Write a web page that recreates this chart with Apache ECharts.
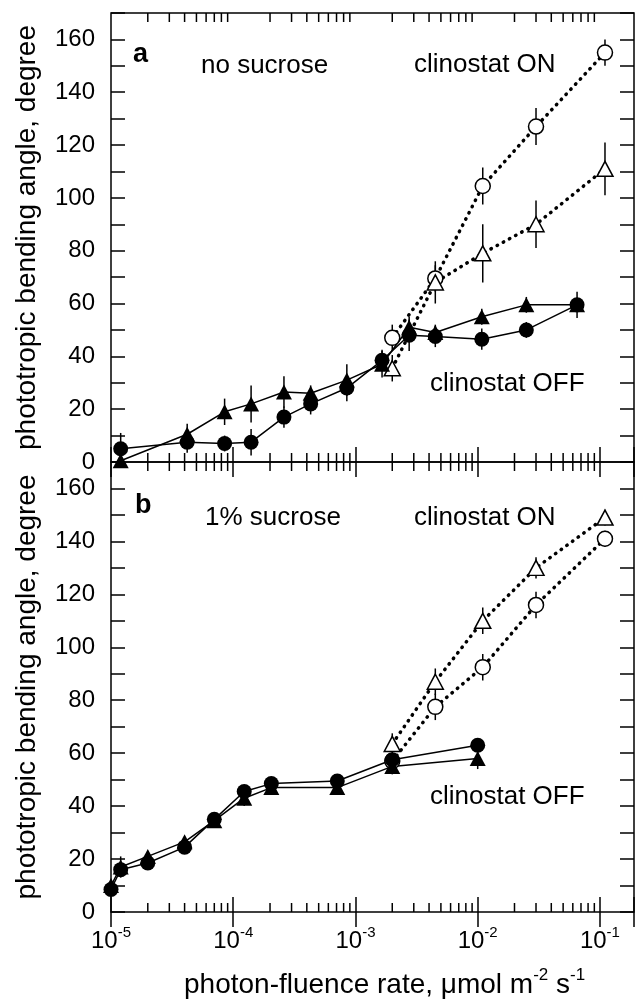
<!DOCTYPE html>
<html>
<head>
<meta charset="utf-8">
<script src="https://cdn.jsdelivr.net/npm/echarts@6/dist/echarts.min.js"></script>
<style>
html, body { margin: 0; padding: 0; background: #fff; }
#main { width: 640px; height: 1002px; }
</style>
</head>
<body>
<div id="main"></div>
<script>
// panel a - no sucrose
var offX_a = [1.2e-5, 4.2e-5, 8.5e-5, 1.4e-4, 2.6e-4, 4.3e-4, 8.5e-4, 1.65e-3, 2.75e-3, 4.5e-3, 1.08e-2, 2.5e-2, 6.5e-2];
var offCircle_a = [5, 7.5, 7, 7.5, 17, 22, 28, 38.5, 48, 47.5, 46.5, 50, 59.5];
var offCircleErr_a = [6, 4, 3, 5, 4, 4, 5, 4, 6, 4, 4, 3, 5];
var offTri_a = [0.5, 10.5, 19, 22, 26.5, 26, 31, 37, 51, 49, 55, 59.5, 59.5];
var offTriErr_a = [0, 4, 5, 7, 6, 3, 6, 5, 4, 3, 3, 3, 0];

var onX_a = [2e-3, 4.5e-3, 1.1e-2, 3e-2, 0.11];
var onCircle_a = [47, 69.5, 104.5, 127, 155];
var onCircleErr_a = [5, 5, 7, 7, 5];
var onTri_a = [35.5, 68, 79, 90, 111];
var onTriErr_a = [5, 8, 11, 9, 10];

// panel b - 1% sucrose
var offX_b = [1e-5, 1.2e-5, 2e-5, 4e-5, 7e-5, 1.23e-4, 2.05e-4, 7.1e-4, 2e-3, 1e-2];
var offCircle_b = [8.5, 16, 18.5, 24.5, 35, 45.5, 48.5, 49.5, 57.5, 63];
var offCircleErr_b = [2, 2, 2, 2, 2, 2, 2, 2, 2, 2];
var offTri_b = [10, 17, 21, 26.5, 34.5, 43, 47, 47, 55, 58];
var offTriErr_b = [2, 4, 2, 2, 2, 3, 2, 2, 3, 4];

var onX_b = [2e-3, 4.5e-3, 1.1e-2, 3e-2, 0.11];
var onCircle_b = [57, 77.5, 92.5, 116, 141];
var onCircleErr_b = [0, 5, 5, 5, 3];
var onTri_b = [63.5, 87, 110, 130, 149];
var onTriErr_b = [4, 5, 5, 4, 3];

var FONT = '"Liberation Sans", Arial, sans-serif';
var xMin = 1e-5, xMax = 0.19, yMax = 170;
var gridLeft = 111, gridRight = 6;

function pairs(xs, ys) {
    var out = [];
    for (var i = 0; i < xs.length; i++) out.push([xs[i], ys[i]]);
    return out;
}

function errData(xs, ys, es) {
    var out = [];
    for (var i = 0; i < xs.length; i++) {
        if (es[i] > 0) out.push([xs[i], ys[i] - es[i], ys[i] + es[i]]);
    }
    return out;
}

// minor ticks 2..9 x 10^n on the log axis
function minorTickData() {
    var out = [];
    for (var e = -5; e <= -1; e++) {
        for (var k = 2; k <= 9; k++) {
            var v = k * Math.pow(10, e);
            if (v < xMax) out.push([v, 0]);
        }
    }
    return out;
}

function renderMinorTick(params, api) {
    var v = api.value(0);
    var bot = api.coord([v, 0]);
    var top = api.coord([v, yMax]);
    var st = { stroke: '#000', lineWidth: 1.5 };
    return {
        type: 'group',
        children: [
            { type: 'line', shape: { x1: bot[0], y1: bot[1], x2: bot[0], y2: bot[1] - 9 }, style: st },
            { type: 'line', shape: { x1: top[0], y1: top[1], x2: top[0], y2: top[1] + 9 }, style: st }
        ]
    };
}

function renderErr(params, api) {
    var lo = api.coord([api.value(0), api.value(1)]);
    var hi = api.coord([api.value(0), api.value(2)]);
    return {
        type: 'line',
        shape: { x1: lo[0], y1: lo[1], x2: hi[0], y2: hi[1] },
        style: { stroke: '#000', lineWidth: 1.5 }
    };
}

function xLabel(v) {
    var ex = Math.log(v) / Math.LN10;
    var r = Math.round(ex);
    if (Math.abs(ex - r) > 1e-6) return '';
    return '{b|10}{s|' + r + '}';
}

function yLabel(v) {
    if (v % 20 != 0 || v > 160) return '';
    return v;
}

function xAxisOf(grid, pos, labels) {
    return {
        type: 'log', logBase: 10, gridIndex: grid, position: pos,
        min: xMin, max: xMax,
        axisLine: { show: false },
        axisTick: { show: true, inside: true, length: 15, lineStyle: { color: '#000', width: 1.5 } },
        splitLine: { show: false },
        axisLabel: {
            show: labels, margin: 13, formatter: xLabel,
            rich: {
                b: { fontFamily: FONT, fontSize: 24, color: '#000', lineHeight: 28, verticalAlign: 'bottom' },
                s: { fontFamily: FONT, fontSize: 15, color: '#000', lineHeight: 15, verticalAlign: 'top' }
            }
        }
    };
}

function yAxisOf(grid, pos, labels) {
    var ax = {
        type: 'value', gridIndex: grid, position: pos,
        min: 0, max: yMax, interval: 10,
        axisLine: { show: false },
        axisTick: { show: true, inside: true, length: 14, lineStyle: { color: '#000', width: 1.5 } },
        splitLine: { show: false },
        axisLabel: { show: labels, margin: 16, formatter: yLabel, fontFamily: FONT, fontSize: 24, color: '#000' }
    };
    if (labels) {
        ax.name = 'phototropic bending angle, degree';
        ax.nameLocation = 'middle';
        ax.nameRotate = 90;
        ax.nameGap = 70;
        ax.nameTextStyle = { fontFamily: FONT, fontSize: 28, color: '#000' };
    }
    return ax;
}

function lineSeries(axis, xs, ys, sym, open, dotted) {
    return {
        type: 'line', xAxisIndex: axis, yAxisIndex: axis * 2,
        data: pairs(xs, ys),
        symbol: sym,
        symbolSize: sym == 'triangle' ? [16, 15] : 15,
        showSymbol: true, clip: false, z: 3,
        itemStyle: open ? { color: '#fff', borderColor: '#000', borderWidth: 1.5 } : { color: '#000' },
        lineStyle: dotted
            ? { color: '#000', width: 3.5, type: [0.5, 6.5], cap: 'round' }
            : { color: '#000', width: 1.5 }
    };
}

function errSeries(axis, xs, ys, es) {
    return {
        type: 'custom', xAxisIndex: axis, yAxisIndex: axis * 2,
        renderItem: renderErr, data: errData(xs, ys, es), clip: false, z: 1
    };
}

function textEl(x, y, str, size, bold) {
    return {
        type: 'text', left: x, top: y,
        style: { text: str, fontFamily: FONT, fontSize: size, fontWeight: bold ? 'bold' : 'normal', fill: '#000' }
    };
}

var chart = echarts.init(document.getElementById('main'));

var option = {
    backgroundColor: '#fff',
    animation: false,
    grid: [
        { left: gridLeft, right: gridRight, top: 13, height: 449, show: true, borderColor: '#000', borderWidth: 1.5, backgroundColor: 'transparent' },
        { left: gridLeft, right: gridRight, top: 462, height: 450, show: true, borderColor: '#000', borderWidth: 1.5, backgroundColor: 'transparent' }
    ],
    xAxis: [
        xAxisOf(0, 'bottom', false),
        xAxisOf(1, 'bottom', true),
        xAxisOf(0, 'top', false),
        xAxisOf(1, 'top', false)
    ],
    yAxis: [
        yAxisOf(0, 'left', true),
        yAxisOf(0, 'right', false),
        yAxisOf(1, 'left', true),
        yAxisOf(1, 'right', false)
    ],
    graphic: [
        textEl(133, 41, 'a', 27, true),
        textEl(201, 53, 'no sucrose', 26, false),
        textEl(414, 52, 'clinostat ON', 26, false),
        textEl(430, 371, 'clinostat OFF', 26, false),
        textEl(135, 492, 'b', 27, true),
        textEl(205, 505, '1% sucrose', 26, false),
        textEl(414, 505, 'clinostat ON', 26, false),
        textEl(430, 784, 'clinostat OFF', 26, false),
        {
            type: 'text', left: 184, top: 967,
            style: {
                text: '{a|photon-fluence rate, \u03bcmol m}{s|-2}{a| s}{s|-1}',
                rich: {
                    a: { fontFamily: FONT, fontSize: 28, fill: '#000', lineHeight: 32, verticalAlign: 'bottom' },
                    s: { fontFamily: FONT, fontSize: 17, fill: '#000', lineHeight: 17, verticalAlign: 'top' }
                }
            }
        }
    ],
    series: [
        // minor x ticks, both panels
        { type: 'custom', xAxisIndex: 0, yAxisIndex: 0, renderItem: renderMinorTick, data: minorTickData(), clip: false, z: 1 },
        { type: 'custom', xAxisIndex: 1, yAxisIndex: 2, renderItem: renderMinorTick, data: minorTickData(), clip: false, z: 1 },

        // error bars
        errSeries(0, offX_a, offCircle_a, offCircleErr_a),
        errSeries(0, offX_a, offTri_a, offTriErr_a),
        errSeries(0, onX_a, onCircle_a, onCircleErr_a),
        errSeries(0, onX_a, onTri_a, onTriErr_a),
        errSeries(1, offX_b, offCircle_b, offCircleErr_b),
        errSeries(1, offX_b, offTri_b, offTriErr_b),
        errSeries(1, onX_b, onCircle_b, onCircleErr_b),
        errSeries(1, onX_b, onTri_b, onTriErr_b),

        // panel a
        lineSeries(0, onX_a, onCircle_a, 'circle', true, true),
        lineSeries(0, onX_a, onTri_a, 'triangle', true, true),
        lineSeries(0, offX_a, offCircle_a, 'circle', false, false),
        lineSeries(0, offX_a, offTri_a, 'triangle', false, false),

        // panel b
        lineSeries(1, onX_b, onCircle_b, 'circle', true, true),
        lineSeries(1, onX_b, onTri_b, 'triangle', true, true),
        lineSeries(1, offX_b, offCircle_b, 'circle', false, false),
        lineSeries(1, offX_b, offTri_b, 'triangle', false, false)
    ]
};

chart.setOption(option);
</script>
</body>
</html>
